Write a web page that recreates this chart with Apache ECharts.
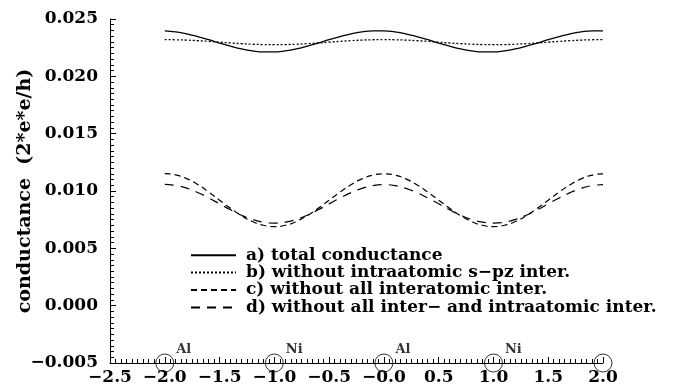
<!DOCTYPE html>
<html>
<head>
<meta charset="utf-8">
<script src="https://cdn.jsdelivr.net/npm/echarts@6/dist/echarts.min.js"></script>
<style>html,body{margin:0;padding:0;background:#fff;}#c{width:679px;height:387px;}</style>
</head>
<body>
<div id="c"></div>
<script>
const xPos = [-2.0,-1.9,-1.8,-1.7,-1.6,-1.5,-1.4,-1.3,-1.2,-1.1,-1.0,-0.9,-0.8,-0.7,-0.6,-0.5,-0.4,-0.3,-0.2,-0.1,0.0,0.1,0.2,0.3,0.4,0.5,0.6,0.7,0.8,0.9,1.0,1.1,1.2,1.3,1.4,1.5,1.6,1.7,1.8,1.9,2.0];
const totalA = [0.02397,0.02388,0.02371,0.02347,0.02320,0.02290,0.02263,0.02239,0.02222,0.02213,0.02213,0.02222,0.02239,0.02263,0.02290,0.02320,0.02347,0.02371,0.02388,0.02397,0.02397,0.02388,0.02371,0.02347,0.02320,0.02290,0.02263,0.02239,0.02222,0.02213,0.02213,0.02222,0.02239,0.02263,0.02290,0.02320,0.02347,0.02371,0.02388,0.02397,0.02397];
const noSpzB = [0.02320,0.02319,0.02316,0.02311,0.02305,0.02298,0.02291,0.02285,0.02280,0.02277,0.02276,0.02277,0.02280,0.02285,0.02291,0.02298,0.02305,0.02311,0.02316,0.02319,0.02320,0.02319,0.02316,0.02311,0.02305,0.02298,0.02291,0.02285,0.02280,0.02277,0.02276,0.02277,0.02280,0.02285,0.02291,0.02298,0.02305,0.02311,0.02316,0.02319,0.02320];
const noInterC = [0.01152,0.01141,0.01108,0.01057,0.00992,0.00920,0.00849,0.00785,0.00734,0.00701,0.00690,0.00701,0.00734,0.00785,0.00849,0.00920,0.00991,0.01055,0.01106,0.01139,0.01150,0.01139,0.01106,0.01055,0.00991,0.00920,0.00849,0.00785,0.00734,0.00701,0.00690,0.00701,0.00734,0.00785,0.00849,0.00920,0.00991,0.01055,0.01106,0.01139,0.01150];
const noAllD = [0.01058,0.01049,0.01025,0.00987,0.00940,0.00888,0.00836,0.00789,0.00752,0.00728,0.00720,0.00728,0.00752,0.00789,0.00836,0.00888,0.00939,0.00986,0.01023,0.01047,0.01055,0.01047,0.01023,0.00986,0.00939,0.00888,0.00836,0.00789,0.00752,0.00728,0.00720,0.00728,0.00752,0.00789,0.00836,0.00888,0.00939,0.00986,0.01023,0.01047,0.01055];
const siteX = [-2, -1, 0, 1, 2];
const siteLabels = ['Al', 'Ni', 'Al', 'Ni', ''];
const seriesNames = ['a) total conductance', 'b) without intraatomic s\u2212pz inter.', 'c) without all interatomic inter.', 'd) without all inter\u2212 and intraatomic inter.'];
const yName = 'conductance  (2*e*e/h)';

const FONT = 'DejaVu Serif';
const pair = (ys) => xPos.map((x, i) => [x, ys[i]]);
const minus = (s) => s.replace('-', '\u2212');

const chart = echarts.init(document.getElementById('c'), null, {renderer: 'canvas'});
chart.setOption({
  animation: false,
  backgroundColor: '#fff',
  grid: {left: 110, right: 76, top: 19, bottom: 24, containLabel: false, outerBoundsMode: 'none'},
  xAxis: {
    type: 'value', min: -2.5, max: 2.0, interval: 0.5,
    axisLine: {onZero: false, lineStyle: {color: '#000', width: 1}},
    axisTick: {inside: true, length: 6, lineStyle: {color: '#000'}},
    minorTick: {show: true, splitNumber: 10, length: 4, lineStyle: {color: '#000'}},
    splitLine: {show: false},
    axisLabel: {color: '#000', fontFamily: FONT, fontWeight: 'bold', fontSize: 17, margin: 6,
      formatter: v => Math.abs(v) < 1e-9 ? '\u22120.0' : minus(v.toFixed(1))}
  },
  yAxis: {
    type: 'value', min: -0.005, max: 0.025, interval: 0.005,
    name: yName, nameLocation: 'middle', nameGap: 75, nameMoveOverlap: false,
    nameTextStyle: {color: '#000', fontFamily: FONT, fontWeight: 'bold', fontSize: 19},
    axisLine: {show: true, onZero: false, lineStyle: {color: '#000', width: 1}},
    axisTick: {inside: true, length: 6, lineStyle: {color: '#000'}},
    minorTick: {show: true, splitNumber: 10, length: 4, lineStyle: {color: '#000'}},
    splitLine: {show: false},
    axisLabel: {color: '#000', fontFamily: FONT, fontWeight: 'bold', fontSize: 17, margin: 12,
      formatter: v => minus(v.toFixed(3))}
  },
  legend: {
    orient: 'vertical', left: 190, top: 246.5, padding: 0,
    itemWidth: 45, itemHeight: 12, itemGap: 0,
    data: seriesNames,
    itemStyle: {opacity: 0},
    textStyle: {color: '#000', fontFamily: FONT, fontWeight: 'bold', fontSize: 17, lineHeight: 17.4, padding: [0, 0, 0, 5]}
  },
  series: [
    {name: seriesNames[0], type: 'line', data: pair(totalA), symbol: 'none', smooth: true,
      lineStyle: {color: '#000', width: 1.3, type: 'solid'}, itemStyle: {color: '#000'}},
    {name: seriesNames[1], type: 'line', data: pair(noSpzB), symbol: 'none', smooth: true,
      lineStyle: {color: '#000', width: 1.3, type: [2, 2]}, itemStyle: {color: '#000'}},
    {name: seriesNames[2], type: 'line', data: pair(noInterC), symbol: 'none', smooth: true,
      lineStyle: {color: '#000', width: 1.2, type: [6, 4]}, itemStyle: {color: '#000'}},
    {name: seriesNames[3], type: 'line', data: pair(noAllD), symbol: 'none', smooth: true,
      lineStyle: {color: '#000', width: 1.2, type: [9, 7]}, itemStyle: {color: '#000'}},
    {type: 'scatter', clip: false, symbol: 'circle', symbolSize: 18, silent: true,
      data: siteX.map((x, i) => ({value: [x, -0.005], label: {formatter: siteLabels[i]}})),
      itemStyle: {color: 'rgba(0,0,0,0)', borderColor: '#000', borderWidth: 1},
      label: {show: true, position: [21, -4], align: 'left', verticalAlign: 'middle',
        color: '#000', fontFamily: FONT, fontWeight: 'bold', fontSize: 13}}
  ]
});
</script>
</body>
</html>
